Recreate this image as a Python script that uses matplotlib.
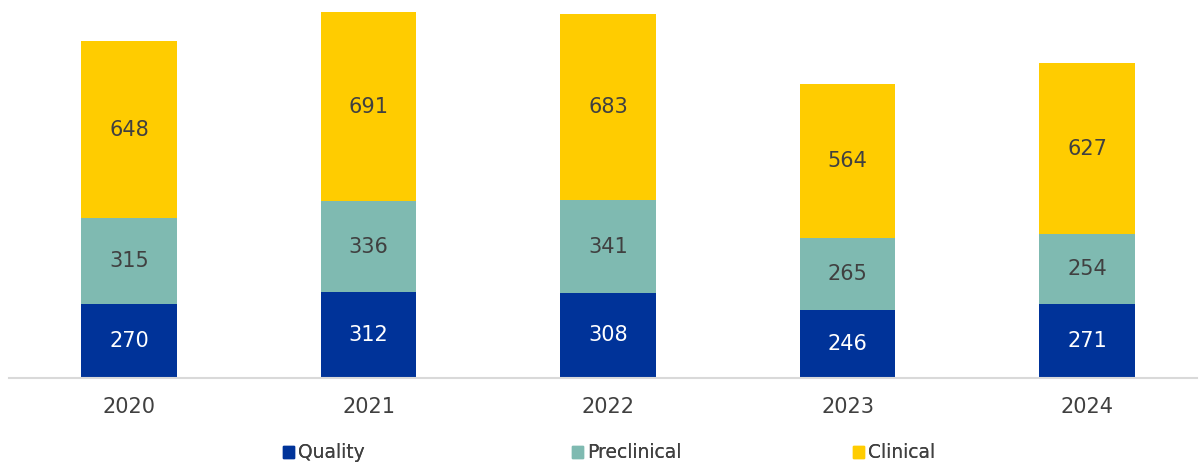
import matplotlib.pyplot as plt
from matplotlib.patches import Patch

years = ['2020', '2021', '2022', '2023', '2024']
quality = [270, 312, 308, 246, 271]
preclinical = [315, 336, 341, 265, 254]
clinical = [648, 691, 683, 564, 627]

series = ['Quality', 'Preclinical', 'Clinical']
colors = ['#003399', '#7fbab1', '#ffcc00']
label_colors = ['white', '#404040', '#404040']

fig = plt.figure(figsize=(11.99, 4.66), dpi=100)
ax = fig.add_axes([9 / 1199, 88.5 / 466, 1188 / 1199, 377.5 / 466])

x = range(len(years))
bottom = [0] * len(years)
for name, vals, c, lc in zip(series, [quality, preclinical, clinical], colors, label_colors):
    bars = ax.bar(x, vals, 0.4, bottom=bottom, color=c, label=name)
    ax.bar_label(bars, labels=[str(v) for v in vals], label_type='center',
                 color=lc, fontsize=15)
    bottom = [b + v for b, v in zip(bottom, vals)]

ax.set_xlim(-0.501, 4.459)
ax.set_ylim(0, 1384)
ax.set_xticks(list(x))
ax.set_xticklabels(years, fontsize=15, color='#404040')
ax.tick_params(axis='x', length=0, pad=14)
ax.set_yticks([])
for s in ['top', 'left', 'right']:
    ax.spines[s].set_visible(False)
ax.spines['bottom'].set_color('#d9d9d9')
ax.spines['bottom'].set_linewidth(1.5)

# legend entries spaced evenly below the axis
for name, c, xpos in zip(series, colors, [283 / 1199, 572 / 1199, 853 / 1199]):
    lg = fig.legend(handles=[Patch(color=c)], labels=[name], loc='center left',
                    bbox_to_anchor=(xpos, 13 / 466), frameon=False, fontsize=13.5,
                    handlelength=0.6, handleheight=0.6, handletextpad=0.2,
                    borderpad=0, borderaxespad=0, labelcolor='#404040')
    fig.add_artist(lg)

fig.savefig('out.png')
